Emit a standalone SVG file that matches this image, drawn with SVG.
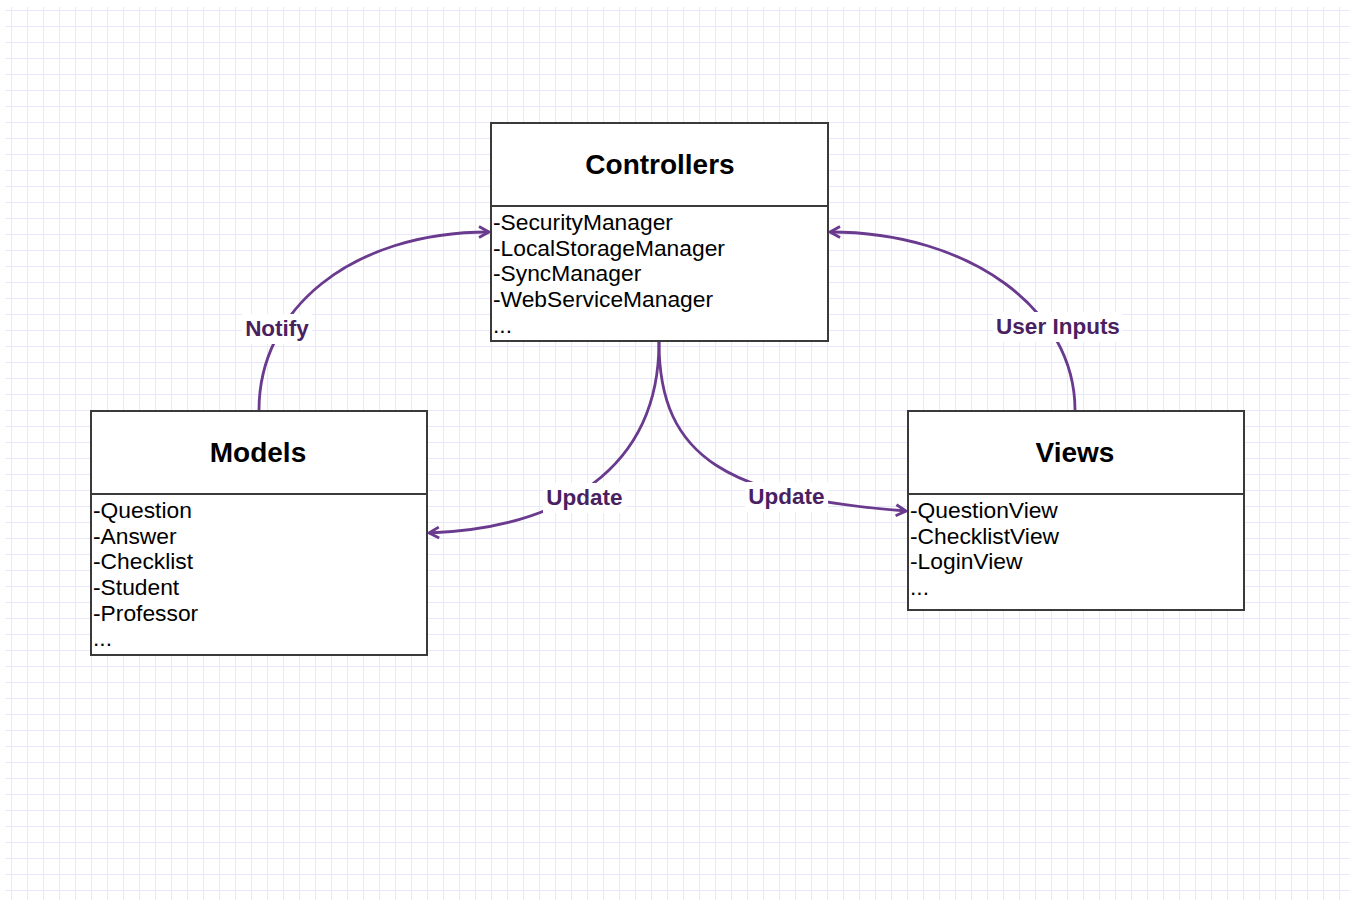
<svg xmlns="http://www.w3.org/2000/svg" width="1358" height="905" viewBox="0 0 1358 905">
<style>
.box{fill:#ffffff;stroke:#3a3a3a;stroke-width:2}
.div{stroke:#3a3a3a;stroke-width:2}
.title{font-family:"Liberation Sans",Arial,sans-serif;font-weight:bold;font-size:28px;fill:#000;text-anchor:middle}
.item{font-family:"Liberation Sans",Arial,sans-serif;font-size:22.8px;fill:#000}
.edge{fill:none;stroke:#6a3a8e;stroke-width:2.8}
.lbl{font-family:"Liberation Sans",Arial,sans-serif;font-weight:bold;font-size:22.5px;fill:#4a2160;text-anchor:middle}
.lblbg{fill:#ffffff}
</style>
<defs>
<pattern id="grid" x="11" y="10" width="16" height="16" patternUnits="userSpaceOnUse">
<path d="M0,0 H16 M0,0 V16" fill="none" stroke="#e9e7fa" stroke-width="2"/>
</pattern>
<marker id="arr" viewBox="0 0 14 14" refX="12" refY="7" markerWidth="14" markerHeight="14" markerUnits="userSpaceOnUse" orient="auto">
<path d="M2,1.5 L12,7 L2,12.5" fill="none" stroke="#6a3a8e" stroke-width="2.8" stroke-linejoin="miter"/>
</marker>
</defs>
<rect x="0" y="0" width="1358" height="905" fill="#ffffff"/>
<rect x="5" y="7" width="1345" height="893" fill="url(#grid)"/>

<g id="connectors">
<path class="edge" d="M259,410 C259,310 350,232 489,232" marker-end="url(#arr)"/>
<path class="edge" d="M1075,410 C1075,310 970,232 830,232" marker-end="url(#arr)"/>
<path class="edge" d="M659,342 C659,470 560,528 429,533" marker-end="url(#arr)"/>
<path class="edge" d="M659,342 C659,460 730,497 906,511" marker-end="url(#arr)"/>
<rect class="lblbg" x="242" y="314" width="70" height="30"/>
<text class="lbl" x="277" y="336">Notify</text>
<rect class="lblbg" x="993" y="312" width="130" height="30"/>
<text class="lbl" x="1058" y="334">User Inputs</text>
<rect class="lblbg" x="543" y="483" width="83" height="30"/>
<text class="lbl" x="584.5" y="505">Update</text>
<rect class="lblbg" x="745" y="482" width="83" height="30"/>
<text class="lbl" x="786.5" y="504">Update</text>
</g>

<g id="controllers">
<rect class="box" x="491" y="123" width="337" height="218"/>
<line class="div" x1="491" y1="206" x2="828" y2="206"/>
<text class="title" x="660" y="174">Controllers</text>
<text class="item" x="493" y="230">-SecurityManager</text>
<text class="item" x="493" y="256">-LocalStorageManager</text>
<text class="item" x="493" y="281">-SyncManager</text>
<text class="item" x="493" y="307">-WebServiceManager</text>
<text class="item" x="493" y="333">...</text>
</g>

<g id="models">
<rect class="box" x="91" y="411" width="336" height="244"/>
<line class="div" x1="91" y1="494" x2="427" y2="494"/>
<text class="title" x="258" y="462">Models</text>
<text class="item" x="93" y="518">-Question</text>
<text class="item" x="93" y="544">-Answer</text>
<text class="item" x="93" y="569">-Checklist</text>
<text class="item" x="93" y="595">-Student</text>
<text class="item" x="93" y="621">-Professor</text>
<text class="item" x="93" y="646">...</text>
</g>

<g id="views">
<rect class="box" x="908" y="411" width="336" height="199"/>
<line class="div" x1="908" y1="494" x2="1244" y2="494"/>
<text class="title" x="1075" y="462">Views</text>
<text class="item" x="910" y="518">-QuestionView</text>
<text class="item" x="910" y="544">-ChecklistView</text>
<text class="item" x="910" y="569">-LoginView</text>
<text class="item" x="910" y="595">...</text>
</g>
</svg>
